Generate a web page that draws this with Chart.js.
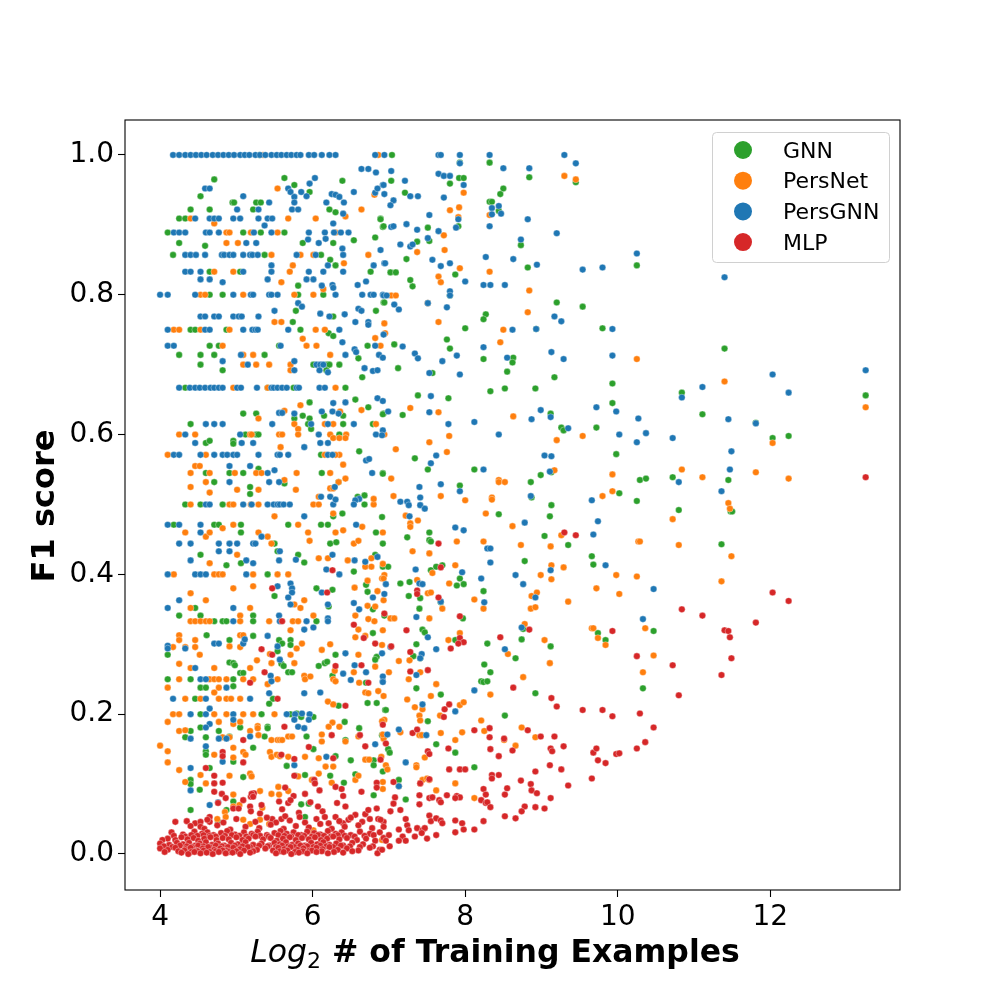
<!DOCTYPE html>
<html lang="en">
<head>
<meta charset="UTF-8">
<title>F1 score vs. training set size</title>
<script src="https://cdn.jsdelivr.net/npm/chart.js@4"></script>
<style>
  html, body { margin: 0; padding: 0; background: #fff; }
  #wrap { width: 1000px; height: 1000px; }
</style>
</head>
<body>
<div id="wrap"><canvas id="f1Chart" width="1000" height="1000"></canvas></div>
<script>
const seriesNames = ['GNN', 'PersNet', 'PersGNN', 'MLP'];
const seriesColors = ['#2ca02c', '#ff7f0e', '#1f77b4', '#d62728'];
const xTicks = [4, 6, 8, 10, 12];
const yTicks = [0.0, 0.2, 0.4, 0.6, 0.8, 1.0];

// [log2 #examples, F1]
const gnnPoints = [
  [5.30,1.0],[4.71,0.965],[5.63,0.967],[6.39,0.963],[5.76,0.957],[5.96,0.947],[4.53,0.941],[4.95,0.932],[4.97,0.932],[5.26,0.932],[5.32,0.932],
  [4.40,0.922],[4.65,0.922],[5.22,0.922],[6.22,0.922],[6.30,0.918],[4.25,0.909],[4.33,0.909],[6.89,0.909],[6.92,0.897],[4.10,0.889],[5.09,0.889],
  [5.32,0.889],[5.63,0.889],[4.25,0.874],[4.59,0.870],[5.87,0.874],[6.27,0.874],[6.54,0.878],[6.82,0.882],[4.17,0.857],[5.37,0.857],[6.11,0.857],
  [6.23,0.850],[6.30,0.842],[4.65,0.833],[5.05,0.833],[6.76,0.833],[5.81,0.813],[4.65,0.800],[4.82,0.800],[5.81,0.800],[6.14,0.800],[6.93,0.789],
  [5.78,0.777],[6.83,0.777],[6.27,0.769],[5.74,0.761],[4.40,0.750],[4.46,0.750],[4.87,0.750],[5.84,0.750],[6.21,0.745],[6.27,0.741],[4.65,0.727],
  [4.77,0.727],[5.56,0.727],[6.72,0.727],[4.25,0.714],[4.53,0.714],[4.71,0.714],[5.37,0.714],[6.60,0.709],[4.53,0.700],[6.01,0.700],[6.19,0.700],
  [6.22,0.700],[6.35,0.700],[4.82,0.692],[6.65,0.682],[6.18,0.692],[4.33,0.667],[5.41,0.667],[5.75,0.667],[6.43,0.667],[5.96,0.646],[6.56,0.650],
  [6.73,0.639],[5.09,0.630],[5.26,0.630],[5.87,0.627],[6.15,0.627],[6.40,0.627],[6.93,0.630],[5.76,0.623],[5.96,0.623],[4.40,0.615],[5.94,0.615],
  [6.40,0.615],[6.79,0.615],[5.98,0.608],[5.12,0.600],[5.26,0.600],[5.29,0.600],[6.35,0.600],[4.60,0.588],[4.65,0.591],[4.96,0.591],[4.96,0.587],
  [6.11,0.571],[6.61,0.576],[5.29,0.551],[4.60,0.545],[4.91,0.545],[5.09,0.545],[6.12,0.545],[6.92,0.545],[5.63,0.530],[5.18,0.525],[5.18,0.515],
  [4.71,0.532],[6.34,0.532],[4.33,0.500],[4.53,0.500],[4.82,0.500],[6.68,0.500],[6.59,0.511],[6.68,0.513],[6.27,0.483],[6.39,0.487],[4.18,0.471],
  [4.71,0.471],[4.77,0.471],[5.06,0.471],[5.68,0.471],[6.11,0.471],[6.20,0.471],[5.06,0.460],[6.83,0.460],[5.50,0.444],[6.23,0.444],[6.31,0.446],
  [6.92,0.444],[5.54,0.433],[5.81,0.428],[4.53,0.428],[4.87,0.413],[5.06,0.416],[5.89,0.417],[6.82,0.428],[5.41,0.400],[6.54,0.404],[6.92,0.411],
  [5.50,0.369],[6.05,0.380],[6.26,0.378],[6.70,0.385],[6.72,0.375],[4.46,0.352],[6.21,0.354],[6.79,0.350],[4.25,0.341],[4.53,0.341],[5.22,0.341],
  [6.94,0.341],[4.71,0.333],[4.82,0.333],[4.87,0.333],[5.22,0.333],[6.05,0.333],
  [4.61,0.313],[5.22,0.312],[6.79,0.316],[4.10,0.285],[4.91,0.306],[5.56,0.306],[5.60,0.301],[5.71,0.306],[5.71,0.299],[5.54,0.290],[6.30,0.285],
  [6.84,0.282],[4.91,0.274],[4.96,0.273],[4.98,0.270],[5.05,0.259],[5.09,0.259],[5.59,0.272],[5.62,0.269],[5.68,0.260],[5.73,0.260],[6.08,0.269],
  [6.16,0.273],[6.19,0.275],[6.26,0.255],[6.82,0.278],[4.10,0.250],[4.40,0.250],[4.96,0.250],[6.70,0.245],[4.53,0.238],[4.60,0.238],[4.96,0.240],
  [5.48,0.222],[5.43,0.215],[4.46,0.222],[6.34,0.212],[6.72,0.216],[6.84,0.216],[6.95,0.206],[4.53,0.200],[5.33,0.200],[5.71,0.200],[5.79,0.201],
  [6.01,0.196],[5.85,0.196],[4.40,0.176],[4.53,0.181],[4.77,0.176],[5.05,0.181],[5.41,0.182],[5.41,0.180],[6.42,0.189],[6.61,0.180],[4.33,0.167],
  [4.60,0.167],[4.91,0.168],[5.37,0.168],[5.92,0.168],[6.43,0.163],[6.91,0.170],[4.60,0.147],[4.60,0.142],[4.96,0.132],[5.22,0.152],[5.66,0.126],
  [6.01,0.150],[6.30,0.140],[6.50,0.134],[6.80,0.134],[6.80,0.127],[4.40,0.106],[4.40,0.100],[4.65,0.123],[5.09,0.110],[5.78,0.112],[5.90,0.113],
  [6.23,0.112],[6.41,0.102],[6.56,0.114],[6.80,0.084],[5.85,0.071],[5.95,0.072],[5.90,0.053],[4.40,0.063],[4.52,0.092],[4.76,0.046],[4.96,0.075],[4.87,0.063],
  [7.04,1.0],[7.93,0.989],[8.32,0.989],[9.45,0.961],[7.03,0.963],[7.92,0.967],[7.98,0.967],[7.80,0.959],[8.84,0.968],[8.50,0.952],[8.46,0.944],
  [8.32,0.933],[8.35,0.933],[8.44,0.920],[7.21,0.946],[7.91,0.898],[6.89,0.908],[6.93,0.898],[7.51,0.896],[7.53,0.877],[7.37,0.876],[8.73,0.871],
  [10.25,0.842],[7.23,0.851],[7.02,0.832],[7.09,0.832],[7.87,0.829],[7.28,0.821],[7.31,0.812],[8.82,0.839],[9.20,0.789],[9.54,0.783],[9.80,0.752],
  [8.93,0.751],[8.63,0.710],[8.62,0.703],[8.55,0.690],[9.17,0.682],[8.24,0.708],[7.80,0.799],[8.27,0.772],[8.24,0.765],[8.00,0.752],[7.76,0.736],
  [7.80,0.723],[7.57,0.688],[7.12,0.695],[7.07,0.729],[6.94,0.789],
  [7.38,0.656],[7.78,0.652],[8.33,0.662],[8.52,0.666],[8.92,0.666],[9.93,0.673],[9.93,0.645],[6.92,0.629],[7.18,0.628],[9.12,0.630],[9.26,0.610],
  [9.29,0.606],[9.72,0.610],[7.34,0.566],[7.51,0.550],[8.12,0.550],[9.13,0.546],[8.99,0.542],[9.98,0.572],[6.92,0.544],[8.86,0.532],[10.02,0.516],
  [10.25,0.505],[7.93,0.527],[8.87,0.510],[9.13,0.499],[9.11,0.483],[8.44,0.486],[6.91,0.482],[9.04,0.455],[9.35,0.442],[7.24,0.453],[7.53,0.460],
  [7.53,0.449],[7.55,0.447],[9.66,0.426],[9.68,0.414],[8.78,0.419],[6.99,0.411],[7.15,0.387],[7.27,0.389],[7.55,0.406],[7.62,0.411],[7.70,0.413],
  [7.93,0.394],[7.89,0.384],[7.98,0.386],[7.26,0.369],[7.41,0.366],[7.68,0.360],[7.40,0.351],[8.24,0.376],[7.97,0.337],
  [8.76,0.322],[7.44,0.321],[7.47,0.317],[9.74,0.316],[9.84,0.306],[7.87,0.306],[8.29,0.301],[9.12,0.297],[8.74,0.307],[8.66,0.280],[7.36,0.300],
  [7.41,0.280],[7.32,0.283],[8.25,0.271],[8.33,0.260],[8.21,0.247],[8.24,0.246],[8.29,0.247],[8.92,0.230],[7.36,0.237],[6.96,0.206],[7.68,0.228],
  [7.51,0.190],[8.52,0.198],[6.94,0.168],[7.62,0.157],[7.87,0.145],[8.12,0.124],[6.99,0.150],[7.01,0.145],[6.92,0.118],[7.13,0.106],[7.22,0.078],
  [11.40,0.723],[10.84,0.660],[13.25,0.656],[11.11,0.629],[11.81,0.617],[12.03,0.595],[12.24,0.598],[10.29,0.535],[10.37,0.537],[10.72,0.539],
  [11.45,0.535],[11.48,0.490],[11.50,0.490],[10.80,0.492],[11.36,0.443],[10.47,0.319],[10.33,0.237]
];

const persNetPoints = [
  [5.35,1.0],[6.86,1.0],[5.54,0.952],[6.81,0.943],[6.64,0.922],[6.43,0.912],[4.40,0.909],[5.68,0.909],[6.04,0.909],[4.71,0.902],[4.87,0.889],
  [4.91,0.889],[5.19,0.889],[5.54,0.889],[6.30,0.889],[4.87,0.874],[5.02,0.874],[5.46,0.857],[5.84,0.857],[6.01,0.857],[6.73,0.857],[6.41,0.845],
  [5.74,0.842],[4.71,0.833],[4.96,0.833],[5.70,0.833],[5.59,0.818],[4.53,0.800],[4.59,0.800],[5.09,0.800],[5.76,0.800],[6.01,0.800],[6.14,0.808],
  [5.50,0.761],[5.59,0.761],[6.94,0.759],[4.18,0.750],[4.25,0.750],[4.53,0.750],[4.91,0.750],[6.04,0.750],[6.16,0.750],[5.87,0.737],[6.05,0.727],
  [6.82,0.738],[4.82,0.727],[5.92,0.727],[6.89,0.727],[5.09,0.714],[5.22,0.714],[6.23,0.714],[5.09,0.700],[5.26,0.700],[5.43,0.700],[5.71,0.700],
  [5.71,0.692],[4.96,0.667],[5.41,0.667],[6.30,0.667],[5.84,0.642],[6.64,0.635],[5.63,0.634],[6.36,0.633],[5.29,0.623],[5.76,0.615],[6.16,0.615],
  [6.27,0.615],[6.83,0.615],[5.81,0.608],[4.25,0.600],[4.46,0.600],[5.18,0.600],[5.20,0.600],[5.56,0.600],[5.60,0.600],[5.81,0.600],[6.23,0.600],
  [6.44,0.600],[6.94,0.600],[5.58,0.582],[6.27,0.595],[6.35,0.595],[6.43,0.595],[4.10,0.571],[4.60,0.571],[6.16,0.571],[6.35,0.571],[6.30,0.571],
  [6.40,0.557],[4.46,0.555],[4.52,0.555],[4.40,0.545],[4.65,0.545],[4.98,0.545],[5.26,0.545],[5.33,0.545],[5.79,0.545],[6.23,0.545],[4.60,0.532],
  [5.63,0.535],[5.78,0.521],[4.40,0.525],[4.65,0.517],[5.01,0.521],[5.29,0.521],[6.23,0.523],[6.27,0.523],[6.34,0.532],[6.43,0.537],[4.40,0.500],
  [4.91,0.500],[4.96,0.500],[5.19,0.500],[5.29,0.500],[6.01,0.500],[6.08,0.500],[6.80,0.500],[6.08,0.511],[6.80,0.508],[5.50,0.483],[6.27,0.487],
  [4.96,0.471],[5.81,0.471],[4.33,0.460],[4.60,0.454],[4.65,0.460],[4.82,0.466],[5.29,0.460],[5.41,0.454],[5.94,0.460],[6.30,0.460],[6.40,0.463],
  [6.65,0.468],[6.92,0.460],[5.46,0.444],[5.96,0.448],[6.54,0.444],[6.60,0.448],[4.65,0.416],[5.01,0.428],[6.08,0.423],[6.20,0.423],[6.46,0.420],
  [6.77,0.423],[6.92,0.415],[4.18,0.400],[4.71,0.400],[4.77,0.400],[4.82,0.400],[5.22,0.400],[5.54,0.400],[5.68,0.400],[6.69,0.411],[6.77,0.411],
  [6.94,0.399],[6.72,0.391],[6.91,0.394],[4.40,0.373],[4.96,0.380],[5.22,0.383],[5.89,0.363],[6.55,0.381],[6.85,0.376],[6.93,0.363],[4.60,0.363],
  [6.72,0.355],[4.40,0.352],[5.18,0.352],[5.76,0.357],[5.84,0.352],[6.82,0.354],[5.05,0.341],[6.01,0.341],[6.56,0.341],[6.73,0.336],[4.40,0.333],
  [4.46,0.333],[4.53,0.333],[4.60,0.333],[4.65,0.333],[5.05,0.333],[5.43,0.333],[5.74,0.333],[5.81,0.333],[6.81,0.333],
  [4.25,0.313],[4.25,0.306],[5.05,0.313],[5.09,0.313],[5.71,0.320],[6.60,0.321],[6.92,0.320],[6.69,0.312],[6.56,0.310],[4.17,0.296],[4.33,0.296],
  [4.46,0.306],[4.46,0.296],[4.91,0.297],[5.05,0.296],[5.44,0.286],[5.79,0.294],[5.86,0.301],[5.71,0.285],[6.23,0.300],[6.12,0.292],[6.60,0.285],
  [4.52,0.285],[4.25,0.272],[4.40,0.266],[4.71,0.266],[5.18,0.266],[5.27,0.277],[5.46,0.273],[5.76,0.273],[5.89,0.255],[6.29,0.262],[6.54,0.260],
  [6.82,0.268],[4.25,0.250],[4.65,0.250],[4.71,0.250],[4.77,0.250],[4.87,0.250],[5.09,0.250],[5.22,0.250],[5.54,0.250],[5.41,0.243],[5.90,0.250],
  [5.97,0.254],[6.27,0.250],[6.30,0.247],[6.61,0.245],[4.10,0.238],[4.71,0.231],[4.77,0.238],[4.33,0.222],[4.53,0.222],[4.77,0.222],[4.87,0.222],
  [4.93,0.222],[5.05,0.222],[6.20,0.218],[6.27,0.214],[6.69,0.231],[6.73,0.230],[6.86,0.233],[4.17,0.200],[4.25,0.200],[4.71,0.200],[4.87,0.200],
  [5.09,0.200],[5.22,0.200],[5.50,0.200],[4.10,0.189],[4.25,0.176],[4.33,0.177],[4.77,0.189],[4.96,0.186],[5.05,0.189],[5.18,0.176],[5.28,0.183],
  [5.28,0.180],[6.26,0.188],[6.35,0.182],[6.21,0.182],[6.94,0.192],[4.00,0.155],[4.82,0.167],[4.91,0.167],[5.29,0.170],[5.46,0.163],[5.54,0.163],
  [5.57,0.163],[5.60,0.163],[5.68,0.168],[5.73,0.168],[6.12,0.161],[6.12,0.171],[6.43,0.161],[6.60,0.168],[6.93,0.165],[4.10,0.147],[4.10,0.131],
  [4.71,0.142],[4.96,0.152],[4.96,0.138],[5.09,0.146],[5.12,0.142],[5.44,0.146],[5.46,0.139],[5.53,0.142],[5.57,0.140],[5.68,0.139],[5.90,0.139],
  [6.08,0.137],[6.17,0.125],[6.27,0.125],[6.69,0.135],[6.74,0.135],[6.90,0.139],[4.25,0.120],[4.33,0.103],[4.53,0.113],[4.60,0.101],[4.91,0.112],
  [5.18,0.115],[5.20,0.111],[5.31,0.090],[5.46,0.086],[5.55,0.096],[5.81,0.111],[5.99,0.106],[6.08,0.115],[6.25,0.102],[6.56,0.106],[6.60,0.112],
  [6.92,0.103],[6.92,0.093],[4.75,0.050],[4.85,0.060],[4.86,0.053],[4.96,0.085],[4.96,0.068],[5.04,0.070],[5.09,0.049],[5.18,0.043],[5.31,0.049],
  [5.34,0.066],[5.43,0.043],[5.56,0.085],[5.68,0.090],[5.97,0.032],[6.01,0.034],[6.91,0.020],
  [9.30,0.970],[9.45,0.965],[7.98,0.946],[7.80,0.921],[7.92,0.925],[7.91,0.911],[8.32,0.914],[7.72,0.885],[7.37,0.861],[7.73,0.864],[7.93,0.838],
  [7.65,0.826],[7.68,0.818],[8.32,0.833],[8.84,0.806],[8.82,0.775],[10.25,0.708],[8.50,0.750],[8.46,0.732],[7.51,0.788],[7.65,0.761],[6.95,0.745],
  [7.03,0.799],[7.09,0.799],
  [7.28,0.638],[7.65,0.632],[8.63,0.626],[9.54,0.598],[7.53,0.589],[7.79,0.598],[9.20,0.592],[7.09,0.579],[7.76,0.575],[9.17,0.549],[9.93,0.543],
  [7.03,0.537],[8.44,0.535],[8.44,0.532],[8.52,0.532],[9.93,0.519],[9.80,0.512],[7.68,0.512],[7.06,0.512],[7.22,0.484],[8.00,0.506],[8.35,0.510],
  [8.35,0.507],[8.27,0.487],[7.28,0.473],[7.28,0.468],[7.38,0.477],[8.62,0.469],[9.26,0.456],[9.12,0.440],[8.73,0.442],[10.27,0.447],[7.89,0.447],
  [8.24,0.447],[7.31,0.433],[7.53,0.430],[9.98,0.399],[10.25,0.397],[9.29,0.410],[9.13,0.413],[8.99,0.399],[9.13,0.393],[7.87,0.413],[6.93,0.394],
  [7.37,0.392],[7.57,0.402],[7.79,0.387],[7.51,0.373],[7.55,0.374],[7.70,0.351],[8.12,0.364],[8.24,0.351],[8.87,0.369],[8.94,0.374],[8.86,0.351],
  [8.92,0.353],[9.35,0.361],[9.72,0.380],[10.02,0.372],[7.02,0.337],[7.07,0.337],[7.53,0.337],[8.78,0.329],[9.66,0.323],[9.68,0.323],
  [7.93,0.316],[7.78,0.306],[9.04,0.306],[9.74,0.309],[9.84,0.299],[8.56,0.286],[9.11,0.273],[6.91,0.299],[7.13,0.276],[7.27,0.277],[7.41,0.260],
  [7.00,0.260],[7.26,0.250],[7.62,0.243],[8.76,0.253],[8.33,0.228],[6.93,0.226],[7.24,0.221],[7.34,0.210],[7.44,0.207],[7.55,0.226],[7.93,0.213],
  [7.98,0.217],[7.67,0.198],[7.40,0.198],[7.41,0.191],[8.21,0.191],[8.74,0.181],[8.92,0.167],[6.91,0.190],[6.92,0.171],[7.15,0.174],[7.40,0.170],
  [7.43,0.170],[7.68,0.173],[7.87,0.163],[7.96,0.174],[8.25,0.176],[8.51,0.163],[8.66,0.155],[7.47,0.138],[7.36,0.127],[7.36,0.124],[6.96,0.127],
  [6.98,0.121],[7.13,0.097],[7.41,0.101],[7.44,0.106],[7.50,0.108],[7.53,0.106],[7.62,0.091],[7.87,0.101],[8.12,0.080],
  [11.40,0.676],[13.25,0.639],[12.03,0.588],[10.84,0.550],[11.11,0.539],[11.81,0.546],[12.24,0.537],[11.45,0.502],[11.47,0.494],[10.72,0.479],
  [10.29,0.447],[10.80,0.442],[11.49,0.426],[11.36,0.390],[10.36,0.323],[10.47,0.284],[10.33,0.260]
];

const persGnnPoints = [
  [4.17,1.0],[4.25,1.0],[4.33,1.0],[4.40,1.0],[4.47,1.0],[4.54,1.0],[4.61,1.0],[4.69,1.0],[4.76,1.0],[4.83,1.0],[4.90,1.0],[4.97,1.0],[5.05,1.0],
  [5.11,1.0],[5.17,1.0],[5.25,1.0],[5.31,1.0],[5.38,1.0],[5.46,1.0],[5.53,1.0],[5.59,1.0],[5.66,1.0],[5.72,1.0],[5.79,1.0],[5.84,1.0],[5.95,1.0],
  [6.02,1.0],[6.12,1.0],[6.22,1.0],[6.30,1.0],[6.82,1.0],
  [6.64,0.980],[6.73,0.980],[6.83,0.975],[6.03,0.967],[5.96,0.959],[4.59,0.952],[4.65,0.952],[5.68,0.952],[5.71,0.947],[5.85,0.947],[5.76,0.940],
  [5.92,0.941],[6.25,0.944],[6.30,0.943],[6.35,0.940],[6.54,0.947],[6.82,0.946],[6.92,0.957],[6.85,0.952],[5.09,0.941],[5.43,0.932],[5.76,0.932],
  [6.18,0.932],[6.41,0.932],[5.01,0.922],[5.29,0.922],[5.73,0.922],[5.81,0.922],[6.40,0.916],[4.46,0.909],[4.65,0.909],[4.71,0.909],[4.77,0.909],
  [4.96,0.909],[5.05,0.909],[5.29,0.909],[5.41,0.909],[5.47,0.909],[5.37,0.899],[6.27,0.902],[4.18,0.889],[4.25,0.889],[4.33,0.889],[4.60,0.889],
  [4.65,0.889],[4.77,0.889],[5.23,0.889],[5.46,0.889],[5.95,0.889],[6.16,0.889],[6.28,0.889],[6.37,0.889],[6.47,0.889],[5.13,0.874],[5.26,0.874],
  [6.08,0.874],[5.94,0.879],[6.17,0.880],[6.39,0.866],[6.89,0.864],[4.33,0.857],[4.40,0.857],[4.47,0.857],[4.59,0.857],[4.81,0.857],[4.84,0.857],
  [4.91,0.857],[4.96,0.857],[5.09,0.857],[5.18,0.857],[5.21,0.857],[5.28,0.857],[5.79,0.857],[6.04,0.857],[6.40,0.857],[5.46,0.842],[6.20,0.842],
  [6.80,0.842],[6.94,0.845],[4.33,0.833],[4.40,0.833],[4.53,0.833],[5.09,0.833],[5.46,0.833],[5.95,0.833],[6.14,0.833],[6.40,0.833],[4.53,0.822],
  [4.65,0.822],[4.82,0.818],[5.41,0.822],[5.92,0.822],[6.01,0.822],[6.12,0.813],[6.26,0.814],[6.27,0.810],[6.59,0.814],[6.70,0.819],[4.00,0.800],
  [4.10,0.800],[4.46,0.800],[4.96,0.800],[5.19,0.800],[5.22,0.800],[5.43,0.800],[5.46,0.800],[5.54,0.800],[6.30,0.800],[6.65,0.800],[6.76,0.800],
  [6.80,0.800],[6.92,0.800],[5.81,0.788],[5.86,0.783],[5.50,0.777],[6.10,0.773],[6.42,0.772],[6.60,0.780],[6.64,0.777],[4.53,0.769],[4.59,0.769],
  [4.71,0.769],[4.77,0.769],[4.96,0.769],[5.03,0.769],[5.07,0.769],[5.29,0.769],[6.22,0.769],[6.56,0.761],[6.73,0.761],[4.10,0.750],[4.59,0.750],
  [4.65,0.750],[5.09,0.750],[5.21,0.750],[5.25,0.750],[5.28,0.750],[5.68,0.750],[6.35,0.750],[6.73,0.757],[6.93,0.743],[6.39,0.732],[4.10,0.727],
  [4.18,0.727],[5.58,0.727],[6.82,0.727],[6.55,0.722],[6.57,0.718],[5.06,0.714],[6.43,0.714],[6.87,0.714],[4.82,0.705],[5.76,0.705],[5.15,0.700],
  [6.05,0.700],[6.10,0.700],[6.14,0.700],[6.68,0.695],[6.79,0.691],[5.76,0.692],[6.20,0.689],
  [6.09,0.692],[6.85,0.692],[4.25,0.667],[4.39,0.667],[4.46,0.667],[4.52,0.667],[4.59,0.667],[4.66,0.667],[4.71,0.667],[4.77,0.667],[4.82,0.667],
  [5.01,0.667],[5.06,0.667],[5.27,0.667],[5.46,0.667],[5.49,0.667],[5.54,0.667],[5.60,0.667],[5.66,0.667],[5.79,0.667],[5.82,0.667],[6.09,0.667],
  [6.16,0.667],[6.27,0.645],[6.43,0.646],[6.85,0.652],[5.56,0.631],[5.60,0.631],[5.76,0.630],[6.12,0.633],[6.26,0.633],[6.34,0.630],[4.60,0.615],
  [4.71,0.615],[4.82,0.615],[5.47,0.615],[5.98,0.615],[6.20,0.615],[6.54,0.615],[6.92,0.606],[4.33,0.600],[5.05,0.600],[6.08,0.600],[6.83,0.600],
  [4.46,0.588],[5.07,0.588],[5.22,0.588],[6.20,0.588],[6.10,0.588],[5.89,0.582],[4.18,0.571],[4.25,0.571],[4.53,0.571],[4.71,0.571],[4.82,0.571],
  [4.88,0.571],[4.96,0.571],[5.01,0.571],[5.29,0.571],[5.54,0.571],[5.57,0.571],[5.68,0.571],[6.20,0.571],[6.26,0.571],[6.70,0.563],[6.74,0.565],
  [4.91,0.555],[5.18,0.555],[5.50,0.549],[5.41,0.545],[6.78,0.545],[5.43,0.532],[5.56,0.532],[4.91,0.532],[6.29,0.525],[6.61,0.508],[6.56,0.506],
  [4.60,0.500],[4.65,0.500],[5.09,0.500],[5.20,0.500],[5.41,0.500],[5.49,0.500],[5.54,0.500],[5.57,0.500],[5.62,0.500],[5.70,0.500],[6.27,0.500],
  [6.54,0.500],[6.11,0.511],[6.23,0.511],[6.30,0.507],[5.89,0.483],[4.10,0.471],[4.25,0.471],[4.53,0.471],[6.57,0.471],[4.53,0.460],[5.33,0.454],
  [4.25,0.444],[4.40,0.444],[4.77,0.444],[4.91,0.444],[5.01,0.444],[5.22,0.444],[5.25,0.444],[4.77,0.433],[4.91,0.433],[5.57,0.433],[5.13,0.420],
  [5.22,0.416],[5.56,0.420],[5.78,0.421],[6.26,0.428],[6.55,0.420],[6.69,0.418],[6.85,0.425],[4.40,0.420],[4.10,0.400],[4.46,0.400],[4.53,0.400],
  [4.60,0.400],[5.13,0.400],[6.18,0.407],[6.35,0.400],[5.54,0.383],[5.71,0.387],[5.73,0.380],[5.73,0.374],[5.68,0.367],[6.12,0.374],[6.79,0.367],
  [6.94,0.372],[4.25,0.363],[4.10,0.352],[4.96,0.352],[5.71,0.357],[6.20,0.357],[6.54,0.359],[6.61,0.350],[5.56,0.341],[6.20,0.337],[4.96,0.333],
  [5.57,0.333],[5.92,0.333],[6.20,0.333],
  [5.41,0.312],[5.89,0.321],[6.01,0.324],[4.10,0.298],[4.10,0.294],[4.33,0.294],[4.71,0.301],[4.77,0.301],[5.09,0.301],[5.11,0.307],[5.54,0.297],
  [5.57,0.278],[6.43,0.287],[6.91,0.287],[4.46,0.266],[6.40,0.258],[6.55,0.270],[6.70,0.260],[4.53,0.250],[4.60,0.250],[5.45,0.255],[5.46,0.247],
  [6.50,0.249],[6.92,0.247],[4.87,0.238],[4.17,0.222],[4.60,0.222],[5.18,0.222],[5.43,0.230],[5.89,0.230],[6.10,0.231],[4.65,0.208],[4.40,0.200],
  [4.60,0.200],[4.96,0.200],[5.66,0.200],[5.77,0.200],[5.86,0.201],[5.96,0.200],[5.95,0.192],[4.65,0.186],[4.60,0.181],[4.96,0.192],[5.76,0.192],
  [5.81,0.182],[5.89,0.180],[4.40,0.165],[4.77,0.165],[4.87,0.165],[5.18,0.168],[6.82,0.157],[4.60,0.154],[4.82,0.132],[5.76,0.127],[6.18,0.139],
  [4.40,0.123],[4.40,0.091],[4.65,0.070],[4.76,0.074],
  [6.94,1.0],[7.65,1.0],[7.68,1.0],[7.93,1.0],[7.93,0.988],[8.32,1.0],[9.30,1.0],[9.45,0.988],[7.03,0.977],[7.21,0.963],[6.93,0.957],[7.65,0.973],
  [7.72,0.970],[7.80,0.970],[8.50,0.981],[8.84,0.981],[7.98,0.957],[8.35,0.924],[8.44,0.927],[8.47,0.916],[8.35,0.915],[6.94,0.944],[7.06,0.935],
  [7.28,0.941],[7.38,0.941],[7.72,0.939],[7.02,0.928],[7.53,0.914],[7.91,0.908],[7.88,0.896],[8.32,0.898],[8.82,0.908],[7.03,0.897],[7.06,0.898],
  [7.23,0.901],[7.37,0.893],[7.65,0.891],[7.51,0.881],[7.28,0.869],[7.31,0.872],[7.15,0.872],[9.20,0.888],[8.73,0.879],[10.25,0.859],[7.57,0.850],
  [7.68,0.841],[7.80,0.845],[6.95,0.845],[8.00,0.819],[8.27,0.854],[8.63,0.851],[8.94,0.843],[9.54,0.836],[9.80,0.839],[8.24,0.814],[8.33,0.814],
  [8.52,0.814],[9.17,0.769],[9.26,0.762],[9.93,0.751],[8.93,0.751],[9.93,0.713],[8.62,0.750],[9.13,0.718],[9.29,0.708],[8.55,0.710],[8.24,0.725],
  [7.80,0.805],[7.80,0.799],[7.51,0.788],[7.76,0.782],[7.89,0.713],[7.70,0.705],[7.53,0.688],[7.93,0.686],[7.34,0.716],[7.38,0.709],[7.18,0.726],
  [6.92,0.710],[7.07,0.786],[7.13,0.779],[6.93,0.799],[6.97,0.799],[11.40,0.825],
  [7.55,0.655],[6.92,0.648],[6.99,0.633],[7.53,0.632],[7.78,0.615],[8.12,0.618],[8.99,0.635],[9.12,0.625],[8.87,0.622],[9.35,0.609],[9.72,0.639],
  [9.98,0.633],[10.02,0.600],[10.25,0.589],[10.27,0.623],[6.91,0.599],[8.44,0.600],[7.62,0.570],[7.55,0.559],[8.24,0.550],[9.04,0.570],[9.13,0.569],
  [9.11,0.547],[9.66,0.506],[7.40,0.525],[7.68,0.529],[7.93,0.519],[7.15,0.504],[7.24,0.504],[7.26,0.499],[7.41,0.510],[7.41,0.499],[7.47,0.494],
  [8.86,0.512],[7.27,0.483],[7.87,0.467],[7.98,0.463],[8.78,0.474],[9.74,0.476],[9.68,0.457],[8.29,0.437],[8.33,0.437],[9.84,0.413],[8.33,0.417],
  [9.12,0.406],[8.66,0.399],[8.76,0.386],[8.21,0.394],[6.96,0.386],[7.35,0.407],[7.40,0.387],[7.44,0.386],[7.96,0.403],[7.68,0.361],[8.25,0.360],
  [8.92,0.367],[7.36,0.339],[8.74,0.324],
  [7.51,0.310],[8.52,0.293],[7.02,0.296],[7.43,0.286],[7.41,0.280],[7.62,0.293],[7.36,0.256],[6.92,0.254],[6.92,0.246],[8.12,0.234],[7.44,0.214],
  [7.87,0.204],[6.98,0.171],[7.13,0.178],[7.49,0.170],[7.22,0.131],[7.13,0.097],
  [12.03,0.686],[13.25,0.692],[10.84,0.653],[11.11,0.668],[12.24,0.660],[11.45,0.622],[11.81,0.616],[10.37,0.602],[10.72,0.595],[11.49,0.576],
  [10.80,0.532],[11.47,0.550],[11.36,0.519],[10.47,0.379],[10.33,0.336]
];

const mlpPoints = [
  [5.47,0.380],[6.26,0.406],[6.19,0.374],[5.60,0.333],
  [6.54,0.328],[6.82,0.301],[6.67,0.309],[5.33,0.293],[5.47,0.285],[5.37,0.260],[6.30,0.269],[6.64,0.270],[6.73,0.245],[5.18,0.245],[5.54,0.222],
  [6.43,0.212],[5.63,0.182],[6.92,0.185],[5.09,0.163],[6.25,0.170],[6.62,0.170],[6.69,0.154],[4.82,0.146],[4.82,0.140],[5.09,0.131],[5.59,0.142],
  [5.76,0.136],[5.95,0.153],[6.27,0.137],[4.60,0.123],[4.71,0.112],[4.71,0.101],[4.71,0.089],[4.82,0.102],[5.23,0.087],[5.19,0.082],[5.64,0.095],
  [5.76,0.112],[5.75,0.083],[6.02,0.106],[6.03,0.101],[6.09,0.091],[6.30,0.096],[6.38,0.093],[6.64,0.089],[6.84,0.102],[6.84,0.095],
  [4.20,0.046],[4.46,0.044],[4.53,0.046],[4.53,0.039],[4.65,0.053],[4.65,0.046],[4.81,0.086],[4.76,0.073],[4.86,0.080],[4.96,0.065],[5.03,0.065],
  [5.09,0.077],[5.20,0.086],[5.22,0.082],[5.18,0.068],[5.19,0.061],[5.33,0.070],[5.31,0.058],[5.47,0.050],[5.56,0.075],[5.59,0.050],[5.64,0.054],
  [5.60,0.064],[5.68,0.073],[5.71,0.077],[5.82,0.059],[5.83,0.053],[5.90,0.086],[5.97,0.074],[6.07,0.068],[6.13,0.061],[6.16,0.053],[6.21,0.044],
  [6.30,0.053],[6.32,0.073],[6.40,0.083],[6.43,0.068],[6.40,0.044],[6.47,0.049],[6.56,0.056],[6.69,0.057],[6.73,0.063],[6.84,0.065],[6.86,0.050],
  [6.93,0.046],
  [4.35,0.047],[4.62,0.049],[4.83,0.045],[5.00,0.050],[5.25,0.046],[5.40,0.052],[5.52,0.045],[5.70,0.048],[5.90,0.045],[6.05,0.050],[6.35,0.047],
  [6.50,0.052],[6.65,0.046],[6.75,0.050],
  [4.40,0.040],[4.58,0.036],[4.75,0.041],[4.92,0.035],[5.12,0.039],[5.30,0.037],[5.45,0.042],[5.62,0.036],[5.78,0.040],[5.95,0.038],[6.10,0.043],
  [6.25,0.036],[6.42,0.039],[6.60,0.041],[6.78,0.037],
  [4.15,0.031],[4.30,0.028],[4.45,0.032],[4.55,0.029],[4.62,0.031],[4.70,0.027],[4.80,0.030],[4.88,0.033],[4.98,0.028],[5.10,0.031],[5.20,0.029],
  [5.28,0.032],[5.40,0.027],[5.50,0.030],[5.58,0.033],[5.66,0.029],[5.75,0.031],[5.85,0.027],[5.93,0.032],[6.02,0.030],[6.10,0.028],[6.20,0.033],
  [6.30,0.029],[6.38,0.031],[6.50,0.027],[6.62,0.032],[6.75,0.029],[6.88,0.031],
  [4.18,0.026],[4.33,0.025],[4.41,0.027],[4.49,0.026],[4.57,0.027],[4.65,0.026],[4.73,0.025],[4.85,0.026],[4.94,0.027],[5.04,0.026],[5.13,0.025],
  [5.22,0.027],[5.31,0.026],[5.42,0.025],[5.55,0.027],[5.63,0.026],[5.72,0.025],[5.81,0.027],[5.89,0.026],[5.99,0.025],[6.07,0.027],[6.15,0.026],
  [6.24,0.025],[6.33,0.027],[6.42,0.026],[6.55,0.025],[6.68,0.026],[6.80,0.027],
  [4.10,0.022],[4.20,0.020],[4.28,0.024],[4.36,0.021],[4.44,0.023],[4.50,0.019],[4.58,0.022],[4.66,0.024],[4.74,0.020],[4.82,0.023],[4.90,0.021],
  [5.00,0.024],[5.08,0.020],[5.16,0.022],[5.25,0.025],[5.35,0.021],[5.45,0.023],[5.53,0.019],[5.61,0.022],[5.70,0.024],[5.78,0.020],[5.86,0.023],
  [5.95,0.021],[6.03,0.024],[6.11,0.020],[6.19,0.022],[6.27,0.025],[6.35,0.021],[6.45,0.023],[6.58,0.020],[6.70,0.022],[6.82,0.019],[6.93,0.023],
  [4.03,0.020],
  [4.00,0.015],[4.12,0.013],[4.22,0.016],[4.30,0.014],[4.38,0.016],[4.46,0.012],[4.52,0.015],[4.60,0.017],[4.68,0.013],[4.76,0.015],[4.84,0.012],
  [4.93,0.016],[5.02,0.014],[5.12,0.017],[5.22,0.013],[5.33,0.015],[5.43,0.012],[5.50,0.016],[5.57,0.014],[5.65,0.017],[5.73,0.013],[5.81,0.015],
  [5.90,0.012],[5.98,0.016],[6.06,0.014],[6.14,0.017],[6.22,0.013],[6.31,0.015],[6.40,0.012],[6.52,0.016],[6.66,0.014],[6.79,0.011],
  [4.05,0.011],[4.16,0.010],[4.26,0.012],[4.35,0.011],[4.42,0.010],[4.50,0.012],[4.57,0.011],[4.65,0.010],[4.73,0.012],[4.81,0.011],[4.89,0.010],
  [4.98,0.012],[5.08,0.011],[5.18,0.010],[5.30,0.012],[5.41,0.011],[5.52,0.010],[5.60,0.012],[5.68,0.011],[5.76,0.010],[5.84,0.012],[5.93,0.011],
  [6.01,0.010],[6.10,0.012],[6.18,0.011],[6.27,0.010],[6.37,0.012],[6.49,0.011],[6.62,0.010],
  [4.00,0.008],[4.10,0.006],[4.20,0.009],[4.33,0.007],[4.40,0.009],[4.48,0.005],[4.56,0.008],[4.63,0.010],[4.71,0.006],[4.79,0.008],[4.87,0.005],
  [4.96,0.009],[5.05,0.007],[5.15,0.010],[5.27,0.006],[5.38,0.008],[5.48,0.005],[5.55,0.009],[5.63,0.007],[5.71,0.010],[5.80,0.006],[5.88,0.008],
  [5.96,0.005],[6.05,0.009],[6.13,0.007],[6.22,0.010],[6.33,0.006],[6.45,0.008],[6.60,0.005],[6.75,0.009],[6.88,0.006],
  [4.06,0.003],[4.24,0.004],[4.32,0.005],[4.41,0.003],[4.49,0.004],[4.57,0.005],[4.65,0.003],[4.73,0.004],[4.82,0.005],[4.90,0.003],[5.00,0.004],
  [5.10,0.005],[5.22,0.004],[5.57,0.004],[5.67,0.005],[5.77,0.003],[5.87,0.004],[5.99,0.005],[6.12,0.004],[6.28,0.003],[6.52,0.004],
  [4.28,0.002],[4.37,0.000],[4.45,0.003],[4.53,0.001],[4.61,0.002],[4.69,0.000],[4.77,0.003],[4.86,0.001],[4.95,0.002],[5.05,0.000],[5.18,0.002],
  [5.52,0.001],[5.62,0.003],[5.72,0.000],[5.82,0.002],[5.93,0.001],[6.05,0.003],[6.20,0.001],[6.40,0.002],[6.85,0.001],
  [9.30,0.460],[9.45,0.456],[7.65,0.444],[7.68,0.410],[7.37,0.377],[7.37,0.372],[7.65,0.367],[6.94,0.344],[7.93,0.340],[8.84,0.321],[9.93,0.319],
  [7.23,0.320],[7.93,0.309],[7.98,0.303],[7.91,0.301],[7.81,0.294],[8.46,0.310],[10.25,0.283],[7.03,0.297],[7.28,0.289],[7.28,0.261],[7.51,0.263],
  [8.63,0.238],[9.13,0.223],[9.20,0.211],[9.54,0.206],[9.80,0.206],[9.93,0.197],[10.29,0.201],[7.73,0.207],[7.72,0.196],[7.79,0.214],[8.82,0.177],
  [8.99,0.168],[9.17,0.168],[9.29,0.154],[9.68,0.145],[9.72,0.151],[9.74,0.134],[9.84,0.130],[9.98,0.143],[10.02,0.144],[10.25,0.151],[9.66,0.108],
  [9.35,0.098],[7.31,0.173],[7.37,0.178],[7.78,0.151],[8.12,0.177],[8.32,0.180],[8.32,0.167],[8.62,0.148],[8.51,0.165],[8.33,0.150],[8.44,0.140],
  [9.12,0.151],[9.14,0.147],[9.11,0.127],[9.26,0.121],[8.92,0.118],[8.73,0.105],[8.86,0.100],[8.87,0.091],[8.94,0.087],[9.12,0.080],[8.78,0.068],
  [8.74,0.061],[8.92,0.067],[9.04,0.065],[8.66,0.051],[8.52,0.054],[7.51,0.147],[7.53,0.143],[6.96,0.158],[6.89,0.135],[7.79,0.121],[7.93,0.121],
  [8.00,0.121],[8.35,0.113],[8.35,0.108],[8.44,0.113],[8.24,0.093],[8.27,0.085],[8.21,0.077],[8.27,0.073],[8.29,0.074],[8.33,0.067],[8.24,0.047],
  [8.55,0.094],[8.52,0.085],[7.89,0.083],[7.93,0.081],[7.87,0.080],[7.76,0.084],[7.66,0.077],[7.68,0.074],[7.53,0.080],[7.57,0.081],[7.40,0.084],
  [7.40,0.071],[7.53,0.055],[7.55,0.047],[7.62,0.051],[7.68,0.048],[7.70,0.044],[7.87,0.048],[7.96,0.044],[7.87,0.031],[7.98,0.035],[8.12,0.035],
  [7.37,0.037],[7.44,0.034],[7.47,0.037],[7.43,0.030],[7.34,0.025],[7.50,0.022],[7.62,0.027],[7.15,0.063],[7.22,0.050],[7.24,0.041],[7.26,0.034],
  [7.13,0.035],[7.18,0.025],[7.22,0.019],[7.13,0.019],[7.01,0.011],[7.00,0.027],[6.96,0.019],[6.89,0.049],[6.93,0.039],[6.91,0.006],[7.06,0.103],
  [7.08,0.081],[7.02,0.061],[7.06,0.072],[7.41,0.101],[7.53,0.107],
  [13.25,0.539],[12.03,0.374],[12.24,0.362],[10.84,0.350],[11.11,0.341],[11.81,0.331],[11.40,0.320],[11.45,0.319],[11.47,0.310],[11.49,0.280],
  [10.72,0.270],[11.36,0.256],[10.80,0.227],[10.47,0.181],[10.36,0.160]
];

const seriesPoints = [gnnPoints, persNetPoints, persGnnPoints, mlpPoints];
const FONT = 'DejaVu Sans';

// white page behind the canvas
const paperBg = {
  id: 'paperBg',
  beforeDraw(chart) {
    const ctx = chart.ctx;
    ctx.save();
    ctx.fillStyle = '#fff';
    ctx.fillRect(0, 0, chart.width, chart.height);
    ctx.restore();
  }
};

// four spines, axis titles and the legend box
const decorations = {
  id: 'decorations',
  afterDraw(chart) {
    const ctx = chart.ctx;
    const a = chart.chartArea;
    ctx.save();
    ctx.strokeStyle = '#000';
    ctx.lineWidth = 1.1;
    ctx.strokeRect(a.left, a.top, a.right - a.left, a.bottom - a.top);

    // y title
    ctx.fillStyle = '#000';
    ctx.font = `bold 32px "${FONT}"`;
    ctx.textAlign = 'center';
    ctx.textBaseline = 'alphabetic';
    ctx.save();
    ctx.translate(54, 506);
    ctx.rotate(-Math.PI / 2);
    ctx.fillText('F1 score', 0, 0);
    ctx.restore();

    // x title: italic Log, subscript 2, then bold rest
    const partLog = 'Log', partSub = '2', partRest = ' # of Training Examples';
    ctx.textAlign = 'left';
    ctx.font = `italic 31.5px "${FONT}"`;
    const wLog = ctx.measureText(partLog).width;
    ctx.font = `22px "${FONT}"`;
    const wSub = ctx.measureText(partSub).width;
    ctx.font = `bold 31.5px "${FONT}"`;
    const wRest = ctx.measureText(partRest).width;
    const x0 = 495 - (wLog + wSub + wRest) / 2;
    const base = 962;
    ctx.font = `italic 31.5px "${FONT}"`;
    ctx.fillText(partLog, x0, base);
    ctx.font = `22px "${FONT}"`;
    ctx.fillText(partSub, x0 + wLog, base + 6);
    ctx.font = `bold 31.5px "${FONT}"`;
    ctx.fillText(partRest, x0 + wLog + wSub, base);

    // legend
    ctx.fillStyle = 'rgba(255,255,255,0.8)';
    ctx.strokeStyle = '#d0d0d0';
    ctx.lineWidth = 1;
    ctx.beginPath();
    ctx.roundRect(712.5, 132.5, 177, 130, 4);
    ctx.fill();
    ctx.stroke();
    ctx.font = `22px "${FONT}"`;
    ctx.textBaseline = 'alphabetic';
    seriesNames.forEach((name, i) => {
      const cy = 150 + i * 30.7;
      ctx.fillStyle = seriesColors[i];
      ctx.beginPath();
      ctx.arc(743, cy, 9, 0, Math.PI * 2);
      ctx.fill();
      ctx.fillStyle = '#000';
      ctx.fillText(name, 783, cy + 7.5);
    });
    ctx.restore();
  }
};

const datasets = seriesNames.map((name, i) => ({
  label: name,
  data: seriesPoints[i].map(p => ({ x: p[0], y: p[1] })),
  backgroundColor: seriesColors[i],
  borderColor: 'rgba(255,255,255,0.7)',
  borderWidth: 0.5,
  pointRadius: 3.3,
  order: seriesNames.length - i
}));

new Chart(document.getElementById('f1Chart'), {
  type: 'scatter',
  data: { datasets: datasets },
  options: {
    responsive: false,
    devicePixelRatio: 1,
    animation: false,
    events: [],
    layout: { padding: { left: 0, top: 120, right: 100, bottom: 0 } },
    plugins: {
      legend: { display: false },
      tooltip: { enabled: false }
    },
    scales: {
      x: {
        type: 'linear',
        min: 3.54,
        max: 13.70,
        afterBuildTicks: s => { s.ticks = xTicks.map(v => ({ value: v })); },
        afterFit: s => { s.height = 110; },
        grid: { display: true, drawOnChartArea: false, drawTicks: true, tickLength: 7, tickColor: '#000', tickWidth: 1.1 },
        border: { display: false },
        ticks: {
          color: '#000',
          font: { family: FONT, size: 28 },
          padding: 4,
          maxRotation: 0,
          autoSkip: false,
          callback: v => String(v)
        }
      },
      y: {
        type: 'linear',
        min: -0.0515,
        max: 1.05,
        afterBuildTicks: s => { s.ticks = yTicks.map(v => ({ value: v })); },
        afterFit: s => { s.width = 125; },
        grid: { display: true, drawOnChartArea: false, drawTicks: true, tickLength: 7, tickColor: '#000', tickWidth: 1.1 },
        border: { display: false },
        ticks: {
          color: '#000',
          font: { family: FONT, size: 28 },
          padding: 4,
          autoSkip: false,
          callback: v => v.toFixed(1)
        }
      }
    }
  },
  plugins: [paperBg, decorations]
});
</script>
</body>
</html>
